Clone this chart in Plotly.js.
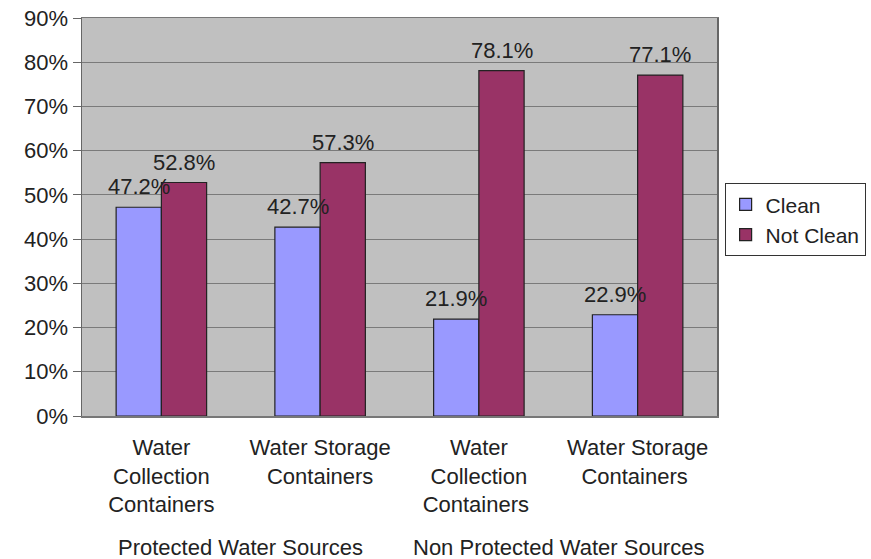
<!DOCTYPE html>
<html><head><meta charset="utf-8">
<script src="https://cdn.plot.ly/plotly-3.0.1.min.js"></script>
<style>html,body{margin:0;padding:0;background:#fff}#chart{width:871px;height:559px}</style>
</head><body><div id="chart"></div>
<script>
const categories = ["Water<br>Collection<br>Containers", "Water Storage<br>Containers", "Water<br>Collection<br>Containers ", "Water Storage<br>Containers "];
const groups = ["Protected Water Sources", "Protected Water Sources", "Non Protected Water Sources", "Non Protected Water Sources"];
const clean = [47.2, 42.7, 21.9, 22.9];
const notClean = [52.8, 57.3, 78.1, 77.1];
const yTicks = [0, 10, 20, 30, 40, 50, 60, 70, 80, 90];

const font = {family: "Liberation Sans, Arial, sans-serif", size: 22, color: "#222"};
const bargap = 0.43;

function trace(name, vals, color) {
  return {
    type: "bar", name: name, x: categories, y: vals,
    marker: {color: color, line: {color: "#222", width: 1.2}},
    hoverinfo: "none"
  };
}

// value labels above each bar
const barW = (1 - bargap) / 2;
function valueLabels(vals, offset) {
  return vals.map((v, i) => ({
    text: v.toFixed(1) + "%", x: i + offset, xref: "x", y: v, yref: "y",
    yanchor: "bottom", xanchor: "center", yshift: 6, showarrow: false, font: font
  }));
}

// group labels centered under their member categories
const uniqGroups = [...new Set(groups)];
const groupAnn = uniqGroups.map(g => {
  const idx = groups.map((gg, i) => gg === g ? i : -1).filter(i => i >= 0);
  const c = idx.reduce((a, b) => a + b, 0) / idx.length;
  return {text: g, x: c, xref: "x", y: -0.33, yref: "paper", yanchor: "middle",
          showarrow: false, font: font};
});

const layout = {
  width: 871, height: 559,
  margin: {l: 82, r: 154, t: 18, b: 143, autoexpand: false},
  paper_bgcolor: "#fff", plot_bgcolor: "#c0c0c0",
  font: font,
  barmode: "group", bargap: bargap, bargroupgap: 0,
  xaxis: {type: "category", showgrid: false, ticks: "", ticklabelstandoff: 11,
          showline: true, linecolor: "#777", linewidth: 1.5, mirror: true,
          tickfont: font, automargin: false},
  yaxis: {range: [0, 90], tickvals: yTicks, ticktext: yTicks.map(v => v + "%"),
          showgrid: true, gridcolor: "#7a7a7a", gridwidth: 1.2,
          showline: true, linecolor: "#666", linewidth: 1.5, mirror: true,
          ticks: "outside", ticklen: 8, tickcolor: "#666",
          zeroline: false, tickfont: font, automargin: false},
  legend: {x: 1.012, xanchor: "left", y: 0.585, yanchor: "top",
           bordercolor: "#333", borderwidth: 1, bgcolor: "#fff",
           font: {family: font.family, size: 21, color: font.color},
           tracegroupgap: 0, itemwidth: 30},
  annotations: groupAnn.concat(valueLabels(clean, -barW / 2), valueLabels(notClean, barW / 2)),
  showlegend: true
};

Plotly.newPlot("chart", [trace("Clean", clean, "#9999ff"), trace("Not Clean", notClean, "#993366")], layout, {displayModeBar: false, staticPlot: true});
</script></body></html>
